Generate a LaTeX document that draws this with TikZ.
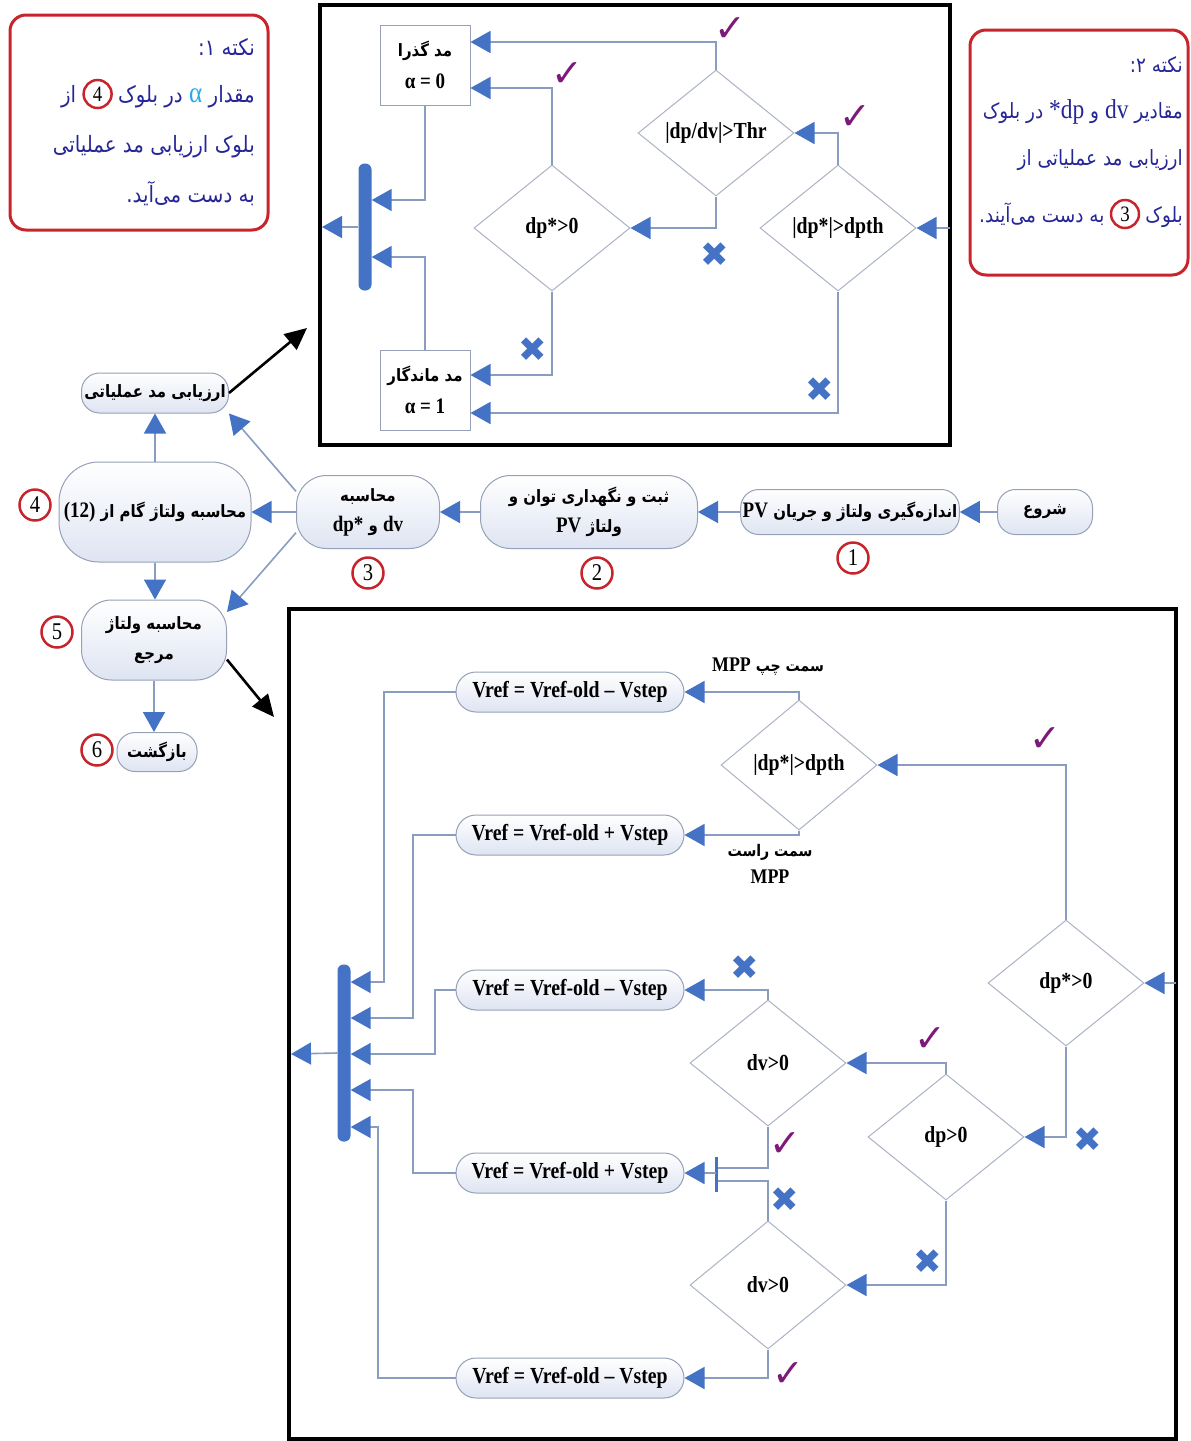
\documentclass[tikz,border=0pt]{standalone}
\usepackage{fontspec}
\setmainfont{Liberation Serif}[FakeStretch=0.86]
\newfontfamily\fa[Script=Arabic, FakeStretch=0.88]{DejaVu Sans}
\newfontfamily\lat{Liberation Serif}[FakeStretch=0.86, Scale=1.3]
\newfontfamily\sym{DejaVu Sans}
\usetikzlibrary{shapes.geometric,arrows.meta,positioning}
\TeXXeTstate=1
\newcommand{\fatext}[1]{\beginR#1\endR}
\newcommand{\en}[1]{\mbox{\lat #1}}

\definecolor{linec}{RGB}{138,156,192}
\definecolor{tipc}{RGB}{68,114,196}
\definecolor{pillc}{RGB}{222,228,242}
\definecolor{pilld}{RGB}{150,160,182}
\definecolor{notec}{RGB}{38,38,150}
\definecolor{alphac}{RGB}{40,170,225}
\definecolor{redc}{RGB}{200,36,44}
\definecolor{chkc}{RGB}{125,25,120}

\tikzset{
  flow/.style={draw=linec, line width=1.6pt},
  arr/.style={flow, -{Triangle[length=20pt,width=22pt,color=tipc]}},
  blk/.style={draw=black, line width=2.6pt, -{Triangle[length=22pt,width=20pt]}},
  outerbox/.style={draw=black, line width=4pt},
  pill/.style={draw=pilld, line width=1pt, rounded corners=18pt, top color=white, bottom color=pillc,
    align=center, inner sep=2pt, font=\fa\bfseries\fontsize{17}{30}\selectfont},
  vbox/.style={pill, rounded corners=20pt, minimum width=228pt, minimum height=40pt,
    font=\bfseries\fontsize{23}{26}\selectfont},
  modebox/.style={draw=pilld, fill=white, line width=1pt, minimum width=90pt, minimum height=80pt,
    align=center, inner sep=2pt, font=\fa\bfseries\fontsize{17}{32}\selectfont},
  dec/.style={diamond, draw=pilld!80, fill=white, line width=1pt, minimum width=156pt,
    minimum height=126pt, inner sep=0pt, font=\bfseries\fontsize{23}{26}\selectfont},
  barnode/.style={fill=tipc, rounded corners=6pt, minimum width=13pt, inner sep=0pt},
  num/.style={circle, draw=redc, line width=2.5pt, fill=white, minimum size=31pt, inner sep=0pt,
    font=\fontsize{24}{24}\selectfont},
  numsm/.style={num, minimum size=28pt, font=\fontsize{22}{22}\selectfont},
  chk/.style={text=chkc, inner sep=0pt, font=\sym\fontsize{38}{38}\selectfont},
  xm/.style={text=tipc, inner sep=0pt, font=\sym\fontsize{34}{34}\selectfont},
  note/.style={draw=redc, line width=3pt, rounded corners=16pt},
  notet/.style={text=notec, inner sep=0pt, font=\fa\fontsize{21}{24}\selectfont},
  notetb/.style={notet, font=\fa\fontsize{22.5}{24}\selectfont},
  lbl/.style={align=center, inner sep=0pt, font=\fa\bfseries\fontsize{16}{27}\selectfont},
}

\begin{document}
\begin{tikzpicture}[x=1pt,y=-1pt]
  \useasboundingbox (0,0) rectangle (1191,1441);

  % note 1
  \draw[note] (10,15) rectangle (268,230);
  \node[notetb, anchor=base east] (n11) at (255,55) {\fatext{نکته ۱\kern0pt:}};
  \node[notetb, anchor=base east] (n12) at (255,102) {\fatext{مقدار}};
  \node[notetb, anchor=base east, xshift=-6pt, text=alphac] (al) at (n12.base west) {\lat α};
  \node[notetb, anchor=base east, xshift=-6pt] (n12c) at (al.base west) {\fatext{در بلوک}};
  \node[numsm, anchor=east, xshift=-5pt, yshift=8pt] (m4) at (n12c.base west) {4};
  \node[notetb, anchor=base east, xshift=-6pt] (n12b) at (m4.west |- n12.base) {\fatext{از}};
  \node[notetb, anchor=base east] (n13) at (255,152) {\fatext{بلوک ارزیابی مد عملیاتی}};
  \node[notetb, anchor=base east] (n14) at (255,202) {\fatext{به دست می‌آید\kern0pt.}};

  % note 2
  \draw[note] (970,30) rectangle (1188,275);
  \node[notet, anchor=base east] (n21) at (1183,72) {\fatext{نکته ۲\kern0pt:}};
  \node[notet, anchor=base east] (n22) at (1183,118) {\fatext{مقادیر \en{dv} و \en{*dp} در بلوک}};
  \node[notet, anchor=base east] (n23) at (1183,165) {\fatext{ارزیابی مد عملیاتی از}};
  \node[notet, anchor=base east] (n24) at (1183,222) {\fatext{بلوک}};
  \node[numsm, anchor=east, xshift=-5pt, yshift=8pt] (m3) at (n24.base west) {3};
  \node[notet, anchor=base east, xshift=-5pt] (n24b) at (m3.west |- n24.base) {\fatext{به دست می‌آیند\kern0pt.}};

  % operating mode evaluation
  \draw[outerbox] (320,5) rectangle (950,445);
  \node[modebox] (gz) at (425,65) {\fatext{مد گذرا}\\ \en{α = 0}};
  \node[modebox] (mn) at (425,390) {\fatext{مد ماندگار}\\ \en{α = 1}};
  \node[barnode, minimum height=127pt] (bar1) at (365,227) {};
  \node[dec] (thr) at (716,133) {|dp/dv|>Thr};
  \node[dec] (dpz) at (552,228) {dp*>0};
  \node[dec] (dth) at (838,228) {|dp*|>dpth};
  \coordinate (in1) at (950,228);
  \coordinate (o1) at (322,227);
  \draw[arr] (in1) -- (dth.east);
  \draw[arr] (dth.north) |- (thr.east);
  \draw[arr] (thr.north) |- ([yshift=23pt]gz.east);
  \draw[arr] (thr.south) |- (dpz.east);
  \draw[arr] (dpz.north) |- ([yshift=-23pt]gz.east);
  \draw[arr] (dpz.south) |- ([yshift=15pt]mn.east);
  \draw[arr] (dth.south) |- ([yshift=-23pt]mn.east);
  \draw[arr] (gz.south) |- ([yshift=27pt]bar1.east);
  \draw[arr] (mn.north) |- ([yshift=-30pt]bar1.east);
  \draw[arr] (bar1.west) -- (o1);
  \node[chk] (ck1) at (730,30) {✓};
  \node[chk] (ck2) at (567,75) {✓};
  \node[chk] (ck3) at (855,118) {✓};
  \node[xm] (xm1) at (715,255) {✖};
  \node[xm] (xm2) at (533,350) {✖};
  \node[xm] (xm3) at (820,390) {✖};

  % main chain
  \node[pill, minimum width=95pt, minimum height=45pt] (st) at (1045,512) {\fatext{شروع}};
  \node[pill, minimum width=215pt, minimum height=45pt] (me) at (850,512) {\fatext{اندازه‌گیری ولتاژ و جریان \en{PV}}};
  \node[pill, rounded corners=30pt, minimum width=217pt, minimum height=73pt] (sa) at (589,512)
    {\fatext{ثبت و نگهداری توان و}\\ \fatext{ولتاژ \en{PV}}};
  \node[pill, rounded corners=30pt, minimum width=143pt, minimum height=73pt] (cal) at (368,512)
    {\fatext{محاسبه}\\ \fatext{\en{dv} و \en{dp*}}};
  \node[pill, rounded corners=40pt, minimum width=192pt, minimum height=100pt] (vs) at (155,512)
    {\fatext{محاسبه ولتاژ گام از \en{(12)}}};
  \node[pill, minimum width=147pt, minimum height=40pt] (ev) at (155,393) {\fatext{ارزیابی مد عملیاتی}};
  \node[pill, rounded corners=30pt, minimum width=145pt, minimum height=80pt] (vr) at (154,640)
    {\fatext{محاسبه ولتاژ}\\ \fatext{مرجع}};
  \node[pill, minimum width=80pt, minimum height=39pt] (rt) at (157,752) {\fatext{بازگشت}};
  \node[num] (c1) at (853,558) {1};
  \node[num] (c2) at (597,573) {2};
  \node[num] (c3) at (368,573) {3};
  \node[num] (c4) at (35,505) {4};
  \node[num] (c5) at (57,632) {5};
  \node[num] (c6) at (97,750) {6};
  \draw[arr] (st.west) -- (me.east);
  \draw[arr] (me.west) -- (sa.east);
  \draw[arr] (sa.west) -- (cal.east);
  \draw[arr] (cal.west) -- (vs.east);
  \draw[arr] (cal.164) -- (ev.south east);
  \draw[arr] (cal.196) -- (vr.21);
  \draw[arr] (vs.north) -- (ev.south);
  \draw[arr] (vs.south) -- (vs.south |- vr.north);
  \draw[arr] (vr.south) -- (vr.south |- rt.north);
  \coordinate (b1) at (307,328);
  \coordinate (b2) at (274,717);
  \draw[blk] (ev.east) -- (b1);
  \draw[blk] (vr.-15) -- (b2);

  % reference voltage
  \draw[outerbox] (289,609) rectangle (1176,1439);
  \node[vbox] (v1) at (570,692) {Vref = Vref-old – Vstep};
  \node[vbox] (v2) at (570,835) {Vref = Vref-old + Vstep};
  \node[vbox] (v3) at (570,990) {Vref = Vref-old – Vstep};
  \node[vbox] (v4) at (570,1173) {Vref = Vref-old + Vstep};
  \node[vbox] (v5) at (570,1378) {Vref = Vref-old – Vstep};
  \node[dec, minimum height=130pt] (q1) at (799,765) {|dp*|>dpth};
  \node[dec] (q2) at (1066,983) {dp*>0};
  \node[dec] (q3) at (946,1137) {dp>0};
  \node[dec] (q4) at (768,1063) {dv>0};
  \node[dec, minimum height=128pt] (q5) at (768,1285) {dv>0};
  \node[barnode, minimum height=177pt] (bar2) at (344,1053) {};
  \node[lbl] (lft) at (768,667) {\fatext{سمت چپ \en{MPP}}};
  \node[lbl] (rgt) at (770,864) {\fatext{سمت راست}\\ \en{MPP}};
  \coordinate (in2) at (1176,983);
  \coordinate (o2) at (291,1054);
  \coordinate (jn) at (716,1173);
  \coordinate (k1) at (384,982);
  \coordinate (k2) at (413,1018);
  \coordinate (k3) at (435,1054);
  \coordinate (k4) at (413,1090);
  \coordinate (k5) at (378,1127);
  \draw[arr] (in2) -- (q2.east);
  \draw[arr] (q2.north) |- (q1.east);
  \draw[arr] (q1.north) |- (v1.east);
  \draw[arr] (q1.south) |- (v2.east);
  \draw[arr] (q2.south) |- (q3.east);
  \draw[arr] (q3.north) |- (q4.east);
  \draw[arr] (q3.south) |- (q5.east);
  \draw[arr] (q4.north) |- (v3.east);
  \draw[flow] (q4.south) |- ([yshift=5pt]jn);
  \draw[flow] (q5.north) |- ([yshift=-8pt]jn);
  \draw[draw=tipc, line width=3pt] ([yshift=16pt]jn) -- ([yshift=-19pt]jn);
  \draw[arr] (jn) -- (v4.east);
  \draw[arr] (q5.south) |- (v5.east);
  \draw[arr] (v1.west) -| (k1) -- (k1 -| bar2.east);
  \draw[arr] (v2.west) -| (k2) -- (k2 -| bar2.east);
  \draw[arr] (v3.west) -| (k3) -- (k3 -| bar2.east);
  \draw[arr] (v4.west) -| (k4) -- (k4 -| bar2.east);
  \draw[arr] (v5.west) -| (k5) -- (k5 -| bar2.east);
  \draw[arr] (bar2.west) -- (o2);
  \node[chk] (ck4) at (1045,740) {✓};
  \node[chk] (ck5) at (930,1040) {✓};
  \node[chk] (ck6) at (785,1145) {✓};
  \node[chk] (ck7) at (788,1375) {✓};
  \node[xm] (xm4) at (1088,1140) {✖};
  \node[xm] (xm5) at (745,968) {✖};
  \node[xm] (xm6) at (785,1200) {✖};
  \node[xm] (xm7) at (928,1262) {✖};
\end{tikzpicture}
\end{document}
